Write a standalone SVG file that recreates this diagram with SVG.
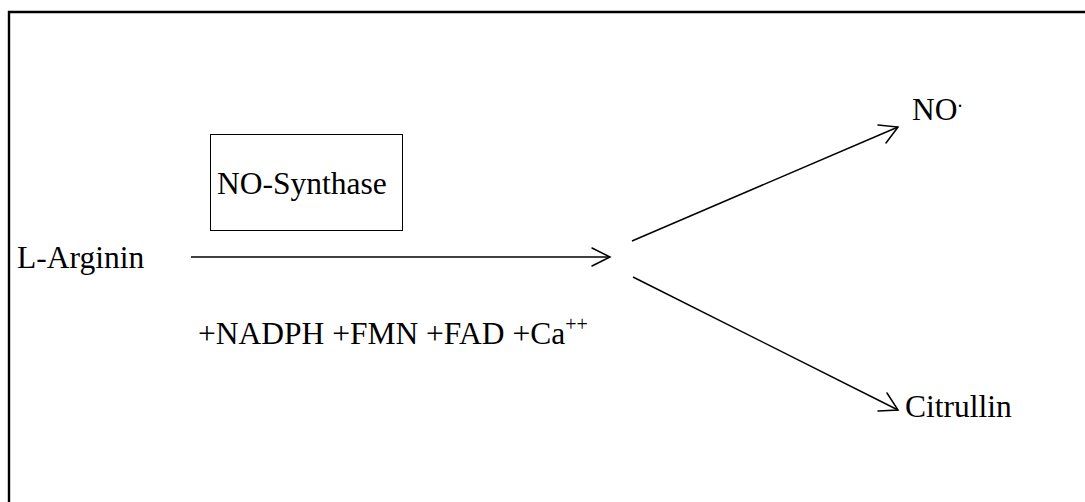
<svg xmlns="http://www.w3.org/2000/svg" width="1085" height="502" viewBox="0 0 1085 502">
<style>
  .t { font-family: "Liberation Serif", "Times New Roman", serif; font-size: 31.5px; fill: #000; }
  .ln { stroke: #000; stroke-width: 1.5; fill: none; }
  .hd { stroke: #000; stroke-width: 1.5; fill: none; stroke-linecap: round; stroke-linejoin: miter; }
</style>
<rect width="1085" height="502" fill="#fff"/>
<g id="frame">
  <path d="M9,502 V12 H1090" fill="none" stroke="#000" stroke-width="2.4"/>
</g>
<g id="enzyme">
  <rect x="210.5" y="134.5" width="192" height="96" fill="none" stroke="#000" stroke-width="1"/>
  <text class="t" x="217" y="194">NO-Synthase</text>
</g>
<g id="arginin">
  <text class="t" x="17" y="268">L-Arginin</text>
</g>
<g id="cofactors">
  <text class="t" x="198" y="344">+NADPH +FMN +FAD +Ca<tspan font-size="20" dy="-13">++</tspan></text>
</g>
<g id="no">
  <text class="t" x="912" y="120">NO<tspan font-size="20" dy="-13">.</tspan></text>
</g>
<g id="citrullin">
  <text class="t" x="905" y="417">Citrullin</text>
</g>
<g id="connectors">
  <line class="ln" x1="191" y1="257" x2="610" y2="257"/>
  <polyline class="hd" points="592,248 610,257 592,266"/>
  <line class="ln" x1="632" y1="241" x2="898" y2="127"/>
  <polyline class="hd" points="878,125 898,127 886,143"/>
  <line class="ln" x1="633" y1="277" x2="898" y2="410"/>
  <polyline class="hd" points="887,393 898,410 878,411"/>
</g>
</svg>
